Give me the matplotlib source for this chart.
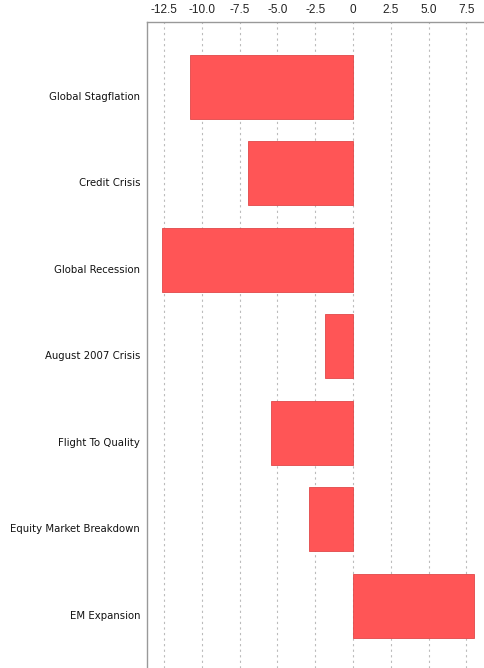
import matplotlib
matplotlib.use("Agg")
import matplotlib.pyplot as plt
import matplotlib.transforms as mtransforms

categories = ["Global Stagflation", "Credit Crisis", "Global Recession",
              "August 2007 Crisis", "Flight To Quality",
              "Equity Market Breakdown", "EM Expansion"]
values = [-10.8, -6.95, -12.65, -1.85, -5.43, -2.9, 8.0]
xticks = [-12.5, -10.0, -7.5, -5.0, -2.5, 0, 2.5, 5.0, 7.5]
xticklabels = ["-12.5", "-10.0", "-7.5", "-5.0", "-2.5", "0", "2.5", "5.0", "7.5"]

fig = plt.figure(figsize=(4.85, 6.68), dpi=100)
ax = fig.add_axes([147/485, 0.0, 1 - 147/485, 1 - 22/668])

pos = list(range(len(categories)))
ax.barh(pos, values, height=0.74, color="#FF5556", edgecolor="#E04848", linewidth=0.6, zorder=3)

ax.set_xlim(-13.64, 8.74)
ax.set_ylim(6.72, -0.75)

ax.set_xticks(xticks)
ax.set_xticklabels(xticklabels, fontsize=8.5, family="Liberation Sans", color="#222222")
ax.xaxis.tick_top()
ax.tick_params(axis="x", length=0, pad=4)

ax.set_yticks(pos)
ax.set_yticklabels(categories, fontsize=7.3, family="DejaVu Sans", color="#111111")
ax.tick_params(axis="y", length=0, pad=5)
offset = mtransforms.ScaledTranslation(0, -9/100, fig.dpi_scale_trans)
for lbl in ax.get_yticklabels():
    lbl.set_transform(lbl.get_transform() + offset)

ax.grid(axis="x", linestyle=(0, (2, 3)), color="#BBBBBB", linewidth=0.8, zorder=0)
ax.grid(axis="y", visible=False)

for s in ["right", "bottom"]:
    ax.spines[s].set_visible(False)
for s in ["left", "top"]:
    ax.spines[s].set_color("#999999")
    ax.spines[s].set_linewidth(1.0)

fig.savefig("out.png", dpi=100)
